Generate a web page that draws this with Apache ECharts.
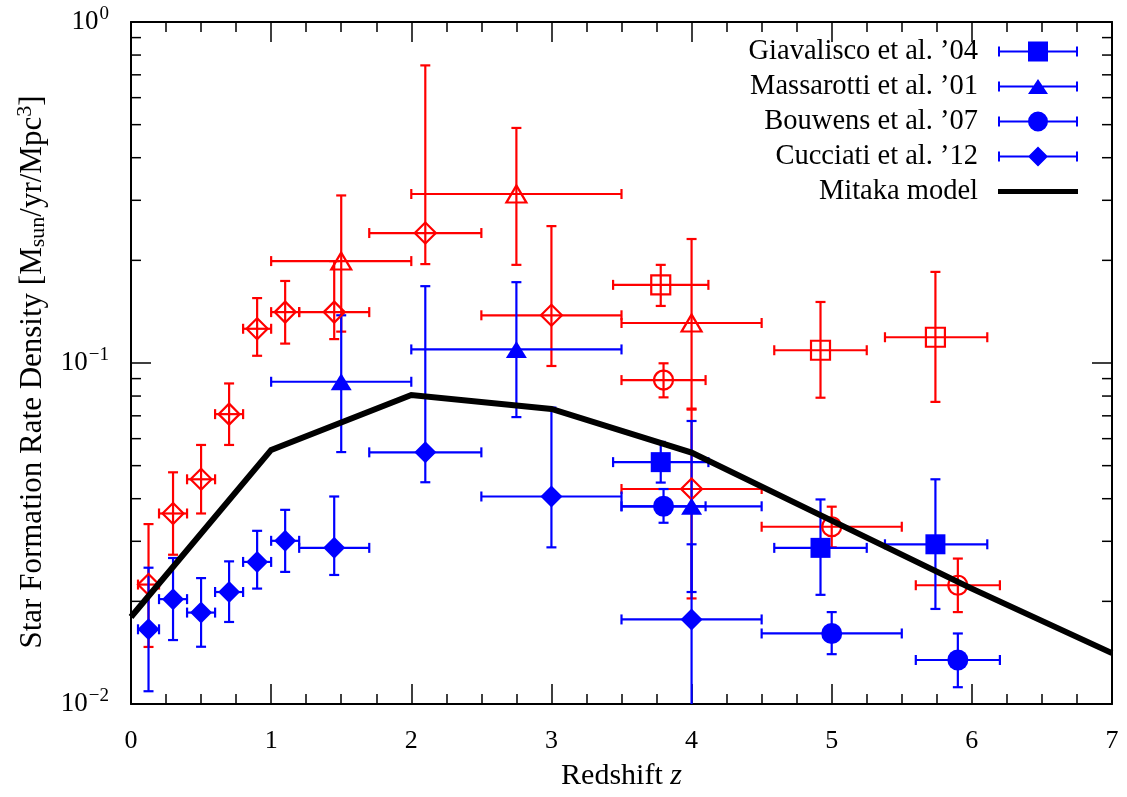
<!DOCTYPE html>
<html>
<head>
<meta charset="utf-8">
<script src="https://cdn.jsdelivr.net/npm/echarts@6/dist/echarts.min.js"></script>
<style>html,body{margin:0;padding:0;background:#fff;}#chart{width:1127px;height:797px;}</style>
</head>
<body>
<div id="chart"></div>
<script>
// Each row: [z, zLow, zHigh, SFRD, SFRDlow, SFRDhigh]
const giavaliscoObs = [
  [3.78, 3.44, 4.12, 0.0512, 0.0446, 0.0587],
  [4.92, 4.59, 5.25, 0.0287, 0.0209, 0.0398],
  [5.74, 5.38, 6.11, 0.0294, 0.0190, 0.0456]
];
const giavaliscoCorr = [
  [3.78, 3.44, 4.12, 0.1695, 0.147, 0.194],
  [4.92, 4.59, 5.25, 0.109, 0.0791, 0.151],
  [5.74, 5.38, 6.11, 0.119, 0.0769, 0.185]
];
const massarottiObs = [
  [1.5, 1.0, 2.0, 0.0881, 0.0548, 0.138],
  [2.75, 2.0, 3.5, 0.1096, 0.0694, 0.1726],
  [4.0, 3.5, 4.5, 0.038, 0.0213, 0.0676]
];
const massarottiCorr = [
  [1.5, 1.0, 2.0, 0.199, 0.1236, 0.31],
  [2.75, 2.0, 3.5, 0.313, 0.194, 0.489],
  [4.0, 3.5, 4.5, 0.131, 0.0735, 0.231]
];
const bouwensObs = [
  [3.8, 3.5, 4.1, 0.038, 0.034, 0.0427],
  [5.0, 4.5, 5.5, 0.0161, 0.014, 0.0186],
  [5.9, 5.6, 6.2, 0.01346, 0.0112, 0.0161]
];
const bouwensCorr = [
  [3.8, 3.5, 4.1, 0.0891, 0.0793, 0.0998],
  [5.0, 4.5, 5.5, 0.0331, 0.0288, 0.0379],
  [5.9, 5.6, 6.2, 0.0223, 0.0186, 0.0267]
];
const cucciatiObs = [
  [0.125, 0.05, 0.2, 0.01656, 0.0109, 0.0251],
  [0.3, 0.2, 0.4, 0.0203, 0.0154, 0.0268],
  [0.5, 0.4, 0.6, 0.01854, 0.01472, 0.0234],
  [0.7, 0.6, 0.8, 0.0213, 0.0174, 0.0262],
  [0.9, 0.8, 1.0, 0.0261, 0.0218, 0.0322],
  [1.1, 1.0, 1.2, 0.0301, 0.0244, 0.0371],
  [1.45, 1.2, 1.7, 0.0287, 0.0239, 0.0406],
  [2.1, 1.7, 2.5, 0.0547, 0.0447, 0.168],
  [3.0, 2.5, 3.5, 0.0406, 0.0288, 0.074],
  [4.0, 3.5, 4.5, 0.0177, 0.0085, 0.0294]
];
const cucciatiCorr = [
  [0.125, 0.05, 0.2, 0.0224, 0.0147, 0.0337],
  [0.3, 0.2, 0.4, 0.0362, 0.0274, 0.0478],
  [0.5, 0.4, 0.6, 0.0456, 0.0362, 0.0575],
  [0.7, 0.6, 0.8, 0.0708, 0.0575, 0.0871],
  [0.9, 0.8, 1.0, 0.126, 0.105, 0.155],
  [1.1, 1.0, 1.2, 0.141, 0.114, 0.174],
  [1.45, 1.2, 1.7, 0.141, 0.1175, 0.199],
  [2.1, 1.7, 2.5, 0.2405, 0.195, 0.746],
  [3.0, 2.5, 3.5, 0.138, 0.098, 0.252],
  [4.0, 3.5, 4.5, 0.0427, 0.0204, 0.073]
];
const mitakaZ = [0, 1, 2, 3, 4, 5, 6, 7];
const mitakaSFRD = [0.018, 0.0556, 0.0806, 0.0733, 0.0546, 0.0345, 0.0218, 0.0141];
const xTicks = [0, 1, 2, 3, 4, 5, 6, 7];
const yMinorTicks = [0.02, 0.03, 0.04, 0.05, 0.06, 0.07, 0.08, 0.09, 0.2, 0.3, 0.4, 0.5, 0.6, 0.7, 0.8, 0.9];

const names = {
  g: 'Giavalisco et al. \u201904',
  m: 'Massarotti et al. \u201901',
  b: 'Bouwens et al. \u201907',
  c: 'Cucciati et al. \u201912',
  k: 'Mitaka model'
};
const FONT = "'Liberation Serif','DejaVu Serif',serif";
const BLUE = '#0000ff', RED = '#ff0000';

function errItem(color) {
  return function (params, api) {
    const x = api.value(0), xl = api.value(1), xh = api.value(2);
    const y = api.value(3), yl = api.value(4), yh = api.value(5);
    const c = api.coord([x, y]);
    const pl = api.coord([xl, y]), ph = api.coord([xh, y]);
    const pbl = api.coord([x, yl]), pbh = api.coord([x, yh]);
    const cap = 5;
    const st = { stroke: color, lineWidth: 2.2, fill: null };
    const L = (x1, y1, x2, y2) => ({ type: 'line', shape: { x1, y1, x2, y2 }, style: st });
    return {
      type: 'group',
      children: [
        L(pl[0], c[1], ph[0], c[1]),
        L(c[0], pbl[1], c[0], pbh[1]),
        L(pl[0], c[1] - cap, pl[0], c[1] + cap),
        L(ph[0], c[1] - cap, ph[0], c[1] + cap),
        L(c[0] - cap, pbl[1], c[0] + cap, pbl[1]),
        L(c[0] - cap, pbh[1], c[0] + cap, pbh[1])
      ]
    };
  };
}
function errSeries(name, data, color) {
  return {
    type: 'custom', name: name, data: data, renderItem: errItem(color), clip: true,
    itemStyle: { color: color }, encode: { x: [0, 1, 2], y: [3, 4, 5] }, z: 3, silent: true
  };
}
function markSeries(name, data, symbol, size, filled, color) {
  return {
    type: 'scatter', name: name, data: data, symbol: symbol, symbolSize: size,
    encode: { x: 0, y: 3 }, z: 5, silent: true,
    itemStyle: filled ? { color: color, opacity: 1 } : { color: 'rgba(0,0,0,0)', borderColor: color, borderWidth: 2.2, opacity: 1 },
    emphasis: { disabled: true }
  };
}

// legend icon paths (80 x 20 boxes)
const barPath = 'M0 9 H80 V11 H0 Z M0 5 H2 V15 H0 Z M78 5 H80 V15 H78 Z ';
const icons = {
  g: 'path://' + barPath + 'M30 0 H50 V20 H30 Z',
  m: 'path://' + barPath + 'M40 2.5 L50 17.5 L30 17.5 Z',
  b: 'path://' + barPath + 'M30 10 A10 10 0 1 1 50 10 A10 10 0 1 1 30 10 Z',
  c: 'path://' + barPath + 'M40 0 L50 10 L40 20 L30 10 Z',
  k: 'path://M0 7.5 H80 V12.5 H0 Z'
};

const supMinus = v => {
  const e = Math.round(Math.log10(v));
  return e === 0 ? '0' : '\u2212' + Math.abs(e);
};

const axisCommon = {
  axisLine: { show: true, onZero: false, lineStyle: { color: '#000', width: 2 } },
  axisTick: { show: true, inside: true, length: 20, lineStyle: { color: '#000', width: 1.5 } },
  splitLine: { show: false }
};

const option = {
  animation: false,
  backgroundColor: '#fff',
  grid: { left: 131, right: 15, top: 22, bottom: 93, containLabel: false },
  xAxis: [
    Object.assign({
      type: 'value', min: 0, max: 7, interval: 1, position: 'bottom',
      minorTick: { show: true, splitNumber: 4, length: 10, lineStyle: { color: '#000', width: 1.5 } },
      axisLabel: { fontSize: 26, color: '#000', fontFamily: FONT, margin: 24, formatter: v => xTicks.indexOf(v) >= 0 ? String(v) : '' },
      name: 'Redshift {i|z}', nameLocation: 'middle', nameGap: 57,
      nameTextStyle: { fontSize: 30, color: '#000', fontFamily: FONT, rich: { i: { fontStyle: 'italic', fontSize: 30, fontFamily: FONT, color: '#000' } } }
    }, axisCommon),
    Object.assign({
      type: 'value', min: 0, max: 7, interval: 1, position: 'top',
      minorTick: { show: true, splitNumber: 4, length: 10, lineStyle: { color: '#000', width: 1.5 } },
      axisLabel: { show: false }
    }, axisCommon)
  ],
  yAxis: [
    Object.assign({
      type: 'log', logBase: 10, min: 0.01, max: 1, position: 'left',
      axisLabel: {
        fontSize: 27, color: '#000', fontFamily: FONT, margin: 22,
        formatter: v => '10{sup|' + supMinus(v) + '}',
        rich: { sup: { fontSize: 19, fontFamily: FONT, color: '#000', padding: [0, 0, 15, 1] } }
      },
      name: 'Star Formation Rate Density [M{sub|sun}/yr/Mpc{sup|3}]',
      nameLocation: 'middle', nameGap: 80, nameRotate: 90,
      nameTextStyle: {
        fontSize: 31, color: '#000', fontFamily: FONT, padding: [0, 18, 0, 0],
        rich: {
          sub: { fontSize: 22, fontFamily: FONT, color: '#000', padding: [11, 0, 0, 0] },
          sup: { fontSize: 22, fontFamily: FONT, color: '#000', padding: [0, 0, 15, 0] }
        }
      }
    }, axisCommon),
    Object.assign({
      type: 'log', logBase: 10, min: 0.01, max: 1, position: 'right',
      axisLabel: { show: false }
    }, axisCommon)
  ],
  legend: {
    data: ['g', 'm', 'b', 'c', 'k'].map(k => ({ name: names[k], icon: icons[k] })),
    orient: 'vertical', align: 'right', right: 49, top: 37,
    itemWidth: 80, itemHeight: 20, itemGap: 6, padding: 0,
    selectedMode: false, symbolKeepAspect: true,
    textStyle: { fontSize: 28.5, fontFamily: FONT, color: '#000', padding: [0, 15, 0, 0] }
  },
  series: [
    // minor ticks on the log axis (left and right)
    {
      type: 'custom', name: 'yMinor', silent: true, z: 1,
      data: yMinorTicks.map(v => [1, v]), encode: { x: 0, y: 1 },
      renderItem: function (params, api) {
        const p = api.coord([0, api.value(1)]);
        const cs = params.coordSys;
        const st = { stroke: '#000', lineWidth: 1.5 };
        return {
          type: 'group', children: [
            { type: 'line', shape: { x1: cs.x, y1: p[1], x2: cs.x + 10, y2: p[1] }, style: st },
            { type: 'line', shape: { x1: cs.x + cs.width - 10, y1: p[1], x2: cs.x + cs.width, y2: p[1] }, style: st }
          ]
        };
      }
    },
    errSeries('Giavalisco corr', giavaliscoCorr, RED),
    errSeries('Massarotti corr', massarottiCorr, RED),
    errSeries('Bouwens corr', bouwensCorr, RED),
    errSeries('Cucciati corr', cucciatiCorr, RED),
    errSeries(names.g, giavaliscoObs, BLUE),
    errSeries(names.m, massarottiObs, BLUE),
    errSeries(names.b, bouwensObs, BLUE),
    errSeries(names.c, cucciatiObs, BLUE),
    markSeries('Giavalisco corr m', giavaliscoCorr, 'rect', 19, false, RED),
    markSeries('Massarotti corr m', massarottiCorr, 'triangle', [20, 17], false, RED),
    markSeries('Bouwens corr m', bouwensCorr, 'circle', 19, false, RED),
    markSeries('Cucciati corr m', cucciatiCorr, 'diamond', 21, false, RED),
    markSeries(names.g, giavaliscoObs, 'rect', 20, true, BLUE),
    markSeries(names.m, massarottiObs, 'triangle', [21, 17], true, BLUE),
    markSeries(names.b, bouwensObs, 'circle', 21, true, BLUE),
    markSeries(names.c, cucciatiObs, 'diamond', 22, true, BLUE),
    {
      type: 'line', name: names.k, data: mitakaZ.map((z, i) => [z, mitakaSFRD[i]]),
      symbol: 'none', z: 10, silent: true,
      lineStyle: { color: '#000', width: 6, join: 'miter' }, itemStyle: { color: '#000' },
      emphasis: { disabled: true }
    }
  ]
};

const chart = echarts.init(document.getElementById('chart'), null, { renderer: 'canvas' });
chart.setOption(option);
</script>
</body>
</html>
